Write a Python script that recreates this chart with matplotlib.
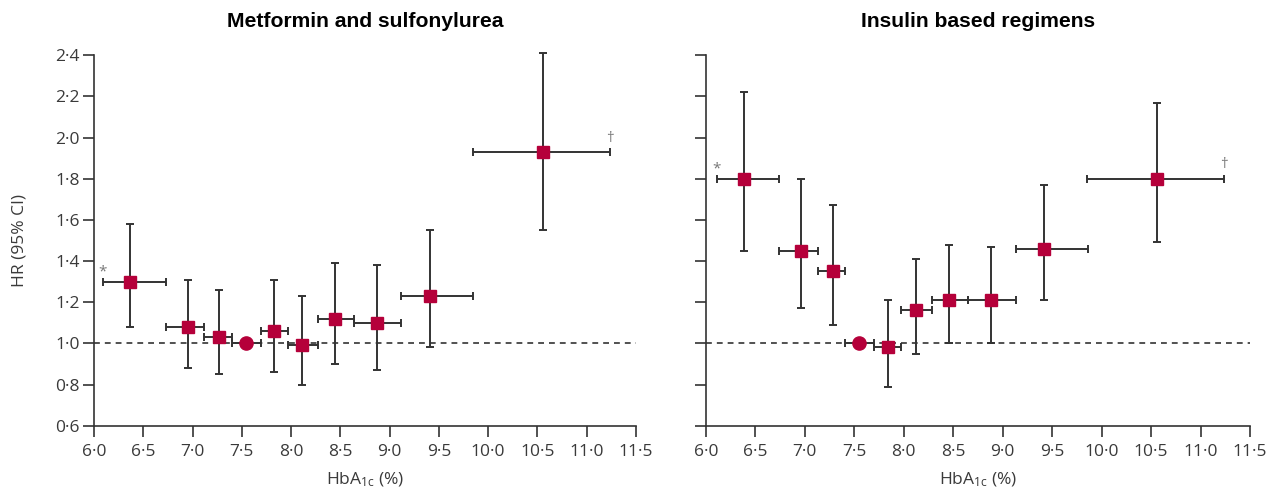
"""
HR (95% CI) by HbA1c category for two treatment groups.
Output: out.png
"""
import numpy as np
import matplotlib
matplotlib.use("Agg")
import matplotlib.pyplot as plt
from matplotlib.ticker import FuncFormatter

# ── Data ──────────────────────────────────────────────────────────────────────
# Metformin and sulfonylurea
x_ms   = [6.37, 6.95, 7.27, 7.54, 7.83, 8.11, 8.45, 8.87, 9.41, 10.56]
hr_ms  = [1.30, 1.08, 1.03, 1.00, 1.06, 0.99, 1.12, 1.10, 1.23, 1.93]
lo_ms  = [1.08, 0.88, 0.85, np.nan, 0.86, 0.80, 0.90, 0.87, 0.98, 1.55]
hi_ms  = [1.58, 1.31, 1.26, np.nan, 1.31, 1.23, 1.39, 1.38, 1.55, 2.41]
xlo_ms = [6.09, 6.73, 7.12, 7.40, 7.69, 7.97, 8.27, 8.64, 9.12, 9.85]
xhi_ms = [6.73, 7.12, 7.40, 7.69, 7.97, 8.27, 8.64, 9.12, 9.85, 11.24]

# Insulin based regimens
x_in   = [6.38, 6.96, 7.28, 7.55, 7.84, 8.12, 8.46, 8.88, 9.42, 10.56]
hr_in  = [1.80, 1.45, 1.35, 1.00, 0.98, 1.16, 1.21, 1.21, 1.46, 1.80]
lo_in  = [1.45, 1.17, 1.09, np.nan, 0.79, 0.95, 1.00, 1.00, 1.21, 1.49]
hi_in  = [2.22, 1.80, 1.67, np.nan, 1.21, 1.41, 1.48, 1.47, 1.77, 2.17]
xlo_in = [6.11, 6.74, 7.13, 7.41, 7.70, 7.97, 8.28, 8.65, 9.13, 9.85]
xhi_in = [6.74, 7.13, 7.41, 7.70, 7.97, 8.28, 8.65, 9.13, 9.86, 11.24]

REF_IDX = 3          # reference category (HR = 1)
X_TICKS = np.arange(6.0, 11.51, 0.5)
Y_TICKS = np.arange(0.6, 2.41, 0.2)

RED  = "#B5003A"
DARK = "#333333"
GREY = "#777777"
TXT  = "#3A3A3A"

plt.rcParams.update({
    "font.family":       ["Open Sans", "DejaVu Sans"],
    "mathtext.fontset":  "custom",
    "mathtext.rm":       "Open Sans",
    "mathtext.default":  "regular",
    "axes.spines.top":   False,
    "axes.spines.right": False,
    "axes.linewidth":    1.2,
    "axes.edgecolor":    DARK,
    "xtick.color":       DARK,
    "ytick.color":       DARK,
    "xtick.labelcolor":  TXT,
    "ytick.labelcolor":  TXT,
})

dot = FuncFormatter(lambda v, _: f"{v:.1f}".replace(".", "\u00b7"))

fig = plt.figure(figsize=(12.73, 4.97), dpi=100)
ax1 = fig.add_axes([0.0738, 0.1435, 0.4258, 0.7455])
ax2 = fig.add_axes([0.5546, 0.1435, 0.4274, 0.7455])


def panel(ax, x, hr, lo, hi, xlo, xhi, title, show_ylabels):
    x, hr, lo, hi = map(np.asarray, (x, hr, lo, hi))
    xlo, xhi = np.asarray(xlo), np.asarray(xhi)
    keep = np.arange(len(x)) != REF_IDX

    ax.axhline(1.0, color=DARK, lw=1.2, ls=(0, (3.5, 3)), zorder=1)

    # horizontal bars: HbA1c range of each category
    ax.errorbar(x, hr, xerr=[x - xlo, xhi - x], fmt="none", ecolor=DARK,
                elinewidth=1.4, capsize=3, capthick=1.4, zorder=2,
                clip_on=False)
    # vertical bars: 95% CI
    ax.errorbar(x[keep], hr[keep],
                yerr=[hr[keep] - lo[keep], hi[keep] - hr[keep]],
                fmt="none", ecolor=DARK, elinewidth=1.4, capsize=3,
                capthick=1.4, zorder=2, clip_on=False)

    ax.plot(x[keep], hr[keep], ls="none", marker="s", ms=8.5,
            mfc=RED, mec=RED, zorder=3, clip_on=False)
    ax.plot(x[REF_IDX], hr[REF_IDX], ls="none", marker="o", ms=9.5,
            mfc=RED, mec=RED, zorder=3)

    # footnote marks at the open-ended categories
    ax.text(xlo[0], hr[0] + 0.01, "*", ha="center", va="bottom",
            fontsize=11, color=GREY)
    ax.text(xhi[-1], hr[-1] + 0.03, "\u2020", ha="center", va="bottom",
            fontsize=11, color=GREY)

    ax.set_xlim(6.0, 11.5)
    ax.set_ylim(0.6, 2.4)
    ax.set_xticks(X_TICKS)
    ax.set_yticks(Y_TICKS)
    ax.xaxis.set_major_formatter(dot)
    ax.yaxis.set_major_formatter(dot)
    ax.tick_params(direction="out", length=8, width=1.2, labelsize=12.5)
    ax.tick_params(axis="x", pad=5)
    ax.tick_params(axis="y", pad=2, labelleft=show_ylabels)
    ax.set_xlabel("HbA$_{1c}$ (%)", fontsize=12.5, color=TXT, labelpad=8)
    ax.set_title(title, fontsize=15.2, fontweight="bold",
                 family="Liberation Sans", pad=20)


panel(ax1, x_ms, hr_ms, lo_ms, hi_ms, xlo_ms, xhi_ms,
      "Metformin and sulfonylurea", True)
panel(ax2, x_in, hr_in, lo_in, hi_in, xlo_in, xhi_in,
      "Insulin based regimens", False)

ax1.set_ylabel("HR (95% CI)", fontsize=12.5, color=TXT, labelpad=20)

fig.savefig("out.png", dpi=100, facecolor="white")
plt.close(fig)
